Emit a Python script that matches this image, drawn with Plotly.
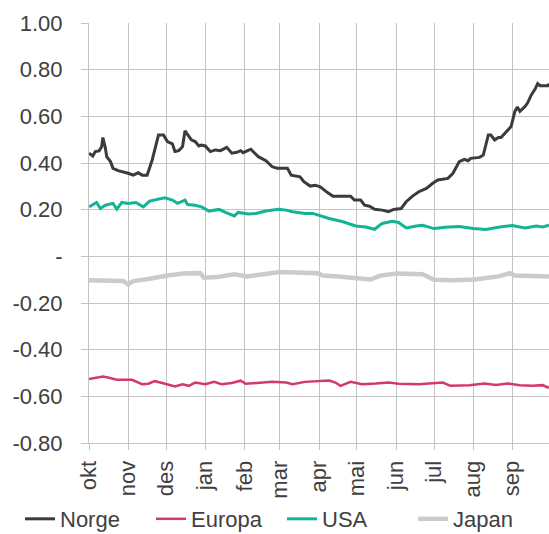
import pandas as pd
import plotly.graph_objects as go

start_date = "2018-10-01"

# Day offsets from start_date, and values
norge_days = [0, 3, 5, 8, 10, 11, 13, 14, 17, 19, 23, 27, 31, 35, 39, 42, 46, 50, 52, 55, 59, 62, 66, 68, 71, 74,
              76, 79, 81, 84, 87, 89, 92, 96, 100, 104, 109, 113, 117, 120, 122, 128, 130, 134, 140, 145, 149, 157,
              160, 167, 170, 175, 179, 183, 189, 193, 207, 210, 215, 218, 222, 226, 232, 237, 241, 247, 251, 256,
              261, 267, 272, 276, 284, 288, 293, 297, 300, 302, 309, 312, 316, 318, 321, 324, 326, 329, 334, 337,
              339, 341, 345, 347, 350, 353, 355, 357, 363, 364]
norge_vals = [0.442, 0.43, 0.449, 0.452, 0.47, 0.509, 0.463, 0.427, 0.406, 0.377, 0.367, 0.363, 0.356, 0.348, 0.358,
              0.348, 0.348, 0.413, 0.456, 0.52, 0.52, 0.492, 0.482, 0.449, 0.453, 0.47, 0.538, 0.513, 0.499, 0.492,
              0.473, 0.477, 0.473, 0.449, 0.456, 0.453, 0.467, 0.442, 0.446, 0.453, 0.444, 0.459, 0.449, 0.427, 0.41,
              0.384, 0.377, 0.377, 0.348, 0.341, 0.32, 0.301, 0.305, 0.298, 0.272, 0.258, 0.258, 0.241, 0.241, 0.219,
              0.215, 0.202, 0.198, 0.191, 0.201, 0.205, 0.234, 0.258, 0.277, 0.291, 0.313, 0.327, 0.334, 0.356, 0.406,
              0.416, 0.41, 0.42, 0.424, 0.434, 0.52, 0.52, 0.499, 0.509, 0.509, 0.528, 0.556, 0.621, 0.64, 0.621, 0.642,
              0.657, 0.692, 0.717, 0.74, 0.731, 0.731, 0.74]

europa_days = [0, 11, 15, 22, 34, 42, 47, 52, 58, 68, 74, 79, 84, 92, 99, 105, 113, 120, 124, 134, 145, 156, 161,
               171, 182, 190, 195, 199, 207, 216, 227, 237, 245, 261, 280, 286, 301, 313, 322, 331, 341, 351, 359,
               363, 364]
europa_vals = [-0.526, -0.515, -0.519, -0.529, -0.529, -0.548, -0.546, -0.535, -0.543, -0.558, -0.548, -0.555,
               -0.541, -0.548, -0.538, -0.548, -0.543, -0.533, -0.546, -0.541, -0.538, -0.541, -0.548, -0.538,
               -0.536, -0.532, -0.541, -0.555, -0.538, -0.548, -0.545, -0.541, -0.546, -0.548, -0.541, -0.555,
               -0.552, -0.545, -0.551, -0.545, -0.552, -0.555, -0.552, -0.562, -0.558]

usa_days = [0, 6, 9, 13, 19, 22, 26, 31, 37, 39, 43, 48, 54, 60, 66, 70, 76, 78, 84, 89, 95, 103, 108, 115, 118,
            126, 132, 140, 150, 156, 161, 171, 177, 182, 187, 190, 201, 211, 219, 226, 232, 240, 245, 251, 259,
            264, 273, 282, 293, 304, 314, 325, 335, 345, 354, 359, 364]
usa_vals = [0.212, 0.231, 0.205, 0.219, 0.227, 0.202, 0.231, 0.227, 0.231, 0.224, 0.212, 0.237, 0.245, 0.251,
            0.241, 0.227, 0.241, 0.222, 0.219, 0.212, 0.194, 0.201, 0.188, 0.173, 0.188, 0.181, 0.184, 0.194,
            0.202, 0.198, 0.191, 0.184, 0.184, 0.176, 0.169, 0.162, 0.148, 0.13, 0.126, 0.116, 0.141, 0.15, 0.145,
            0.122, 0.13, 0.133, 0.119, 0.125, 0.128, 0.119, 0.115, 0.126, 0.132, 0.122, 0.13, 0.126, 0.133]

japan_days = [0, 27, 31, 35, 48, 62, 75, 88, 91, 101, 115, 125, 138, 151, 181, 185, 197, 207, 223, 231, 244, 264,
              273, 289, 305, 324, 333, 337, 355, 364]
japan_vals = [-0.103, -0.106, -0.12, -0.106, -0.096, -0.082, -0.074, -0.072, -0.092, -0.089, -0.077, -0.086,
              -0.077, -0.067, -0.072, -0.082, -0.086, -0.092, -0.099, -0.082, -0.074, -0.077, -0.1, -0.103, -0.099,
              -0.086, -0.072, -0.082, -0.086, -0.086]

month_starts = ["2018-10-01", "2018-11-01", "2018-12-01", "2019-01-01", "2019-02-01", "2019-03-01",
                "2019-04-01", "2019-05-01", "2019-06-01", "2019-07-01", "2019-08-01", "2019-09-01"]
month_labels = ["okt", "nov", "des", "jan", "feb", "mar", "apr", "mai", "jun", "jul", "aug", "sep"]

y_ticks = [-0.8, -0.6, -0.4, -0.2, 0.0, 0.2, 0.4, 0.6, 0.8, 1.0]
y_labels = ["-0.80", "-0.60", "-0.40", "-0.20", "-", "0.20", "0.40", "0.60", "0.80", "1.00"]

base = pd.Timestamp(start_date)


def to_dates(days):
    return [base + pd.Timedelta(days=d) for d in days]


series = [
    ("Norge", norge_days, norge_vals, "#3b3b3b", 3),
    ("Europa", europa_days, europa_vals, "#d23a6c", 2.5),
    ("USA", usa_days, usa_vals, "#13b496", 3),
    ("Japan", japan_days, japan_vals, "#cbcbcb", 4.5),
]

fig = go.Figure()
for name, d, v, c, w in series:
    fig.add_trace(go.Scatter(x=to_dates(d), y=v, name=name, mode="lines",
                             line=dict(color=c, width=w), cliponaxis=True))

grid = "#c4c4c4"
txt = "#404040"
fsize = 22
font = dict(family="Liberation Sans, Arial, sans-serif", size=fsize, color=txt)

fig.update_layout(
    width=549, height=534,
    margin=dict(l=89, r=0, t=23, b=91, autoexpand=False),
    paper_bgcolor="white", plot_bgcolor="white",
    font=font,
    showlegend=True,
    legend=dict(orientation="h", x=-0.15, xanchor="left", y=-0.131, yanchor="top",
                font=dict(size=fsize, color=txt), itemwidth=30, tracegroupgap=0,
                entrywidth=86, entrywidthmode="pixels"),
    xaxis=dict(range=["2018-10-01", "2019-09-30"], tickvals=month_starts, ticktext=month_labels,
               tickangle=-90, showgrid=True, gridcolor=grid, gridwidth=1,
               ticks="outside", ticklen=6, tickcolor=grid, showline=True, linecolor=grid,
               zeroline=False, tickfont=dict(size=fsize, color=txt), ticklabelstandoff=2),
    yaxis=dict(range=[-0.8, 1.0], tickvals=y_ticks, ticktext=y_labels, showgrid=True, gridcolor=grid,
               gridwidth=1, ticks="outside", ticklen=7, tickcolor=grid, showline=True, linecolor=grid,
               zeroline=False, tickfont=dict(size=fsize, color=txt), ticklabelstandoff=14),
)

fig.write_html("out.html", config={"displayModeBar": False},
               post_script="document.body.style.margin='0';document.body.style.padding='0';")
